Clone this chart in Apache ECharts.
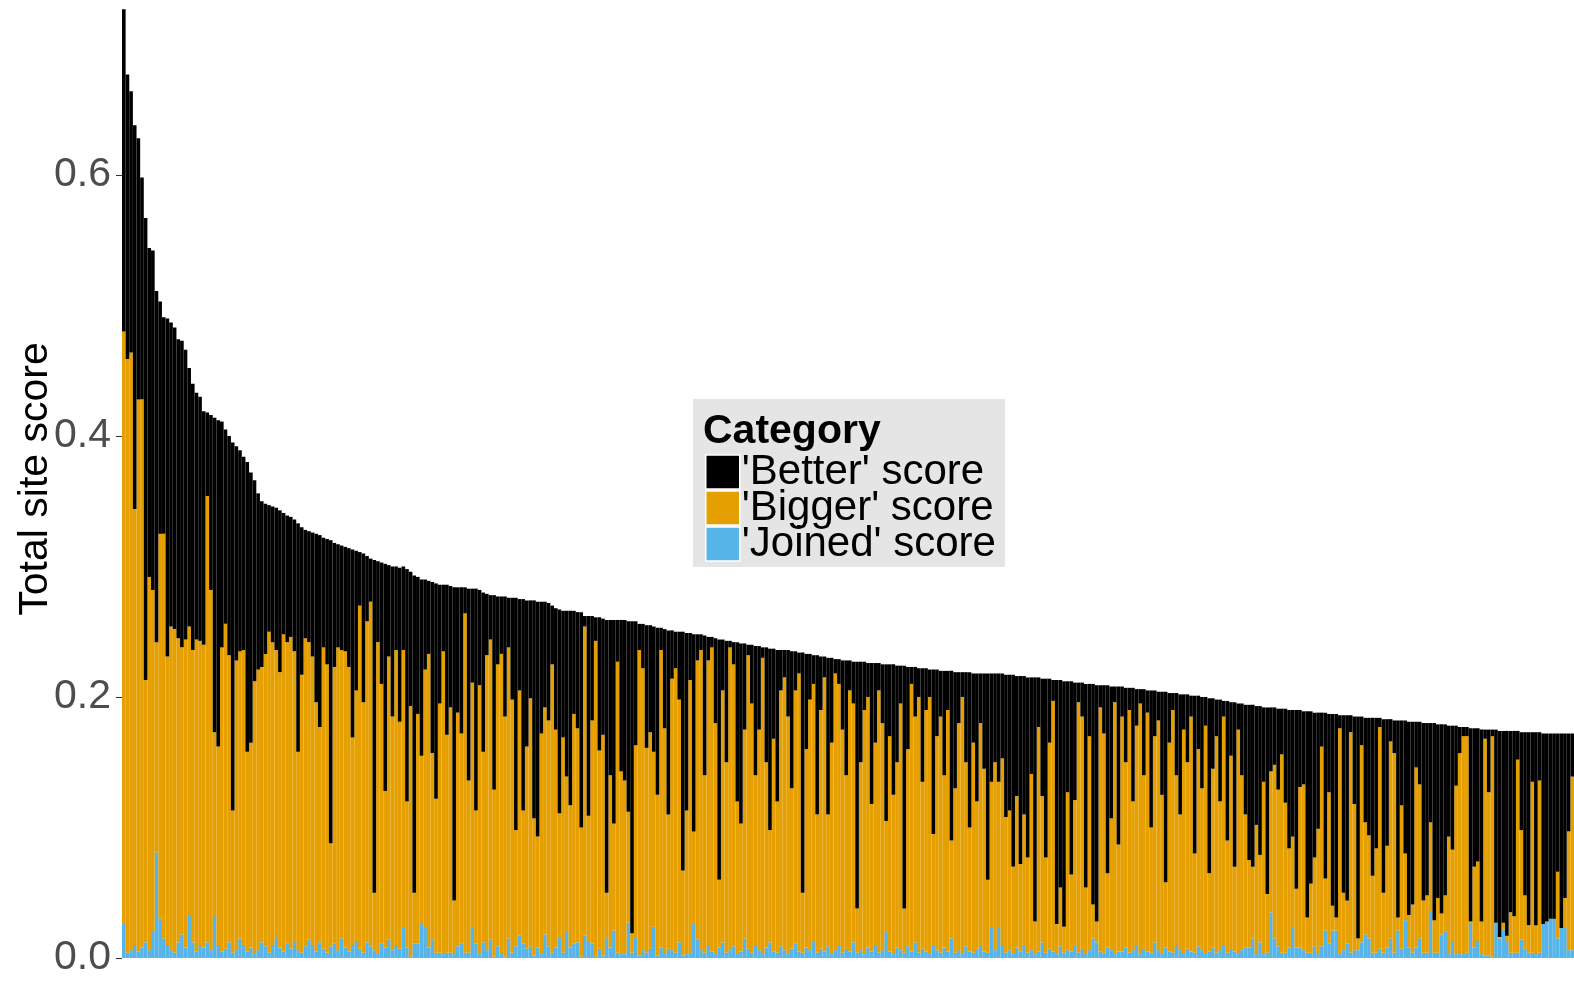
<!DOCTYPE html>
<html>
<head>
<meta charset="utf-8">
<script src="https://cdn.jsdelivr.net/npm/echarts@6/dist/echarts.min.js"></script>
<style>
html,body{margin:0;padding:0;background:#fff;}
#chart{width:1574px;height:981px;}
</style>
</head>
<body>
<div id="chart"></div>
<script>
// ---- data (sites sorted by total score, descending) ----
const seriesNames = ["'Better' score", "'Bigger' score", "'Joined' score"];
const yTickValues = [0, 0.2, 0.4, 0.6];

const joinedScore = [
  .026,.004,.006,.010,.005,.008,.012,.006,.020,.081,.030,.015,.010,.006,.004,.012,.018,.008,.033,.012,.005,.010,
  .008,.012,.006,.033,.010,.005,.007,.012,.004,.006,.015,.010,.005,.008,.003,.006,.012,.009,.004,.010,.016,.008,.005,.011,.007,.013,.006,.004,.009,.014,.010,.005,.012,.007,.004,.009,.011,.006,.015,.008,.005,.010,.013,.007,.004,.012,.009,.006,.003,.011,.008,.014,.006,.010,.007,
  .023,.008,.001,.011,.011,.026,.023,.008,.014,.004,.004,.003,.004,.004,.003,.009,.011,.004,.004,.024,.011,.003,.012,.006,.014,.001,.009,.003,.001,.015,.004,.009,.017,.011,.007,.009,.002,.008,.003,.018,.009,.004,.008,.016,.004,.020,.008,.011,.012,.001,.017,.013,.011,.001,.007,.002,.016,.008,.021,.004,.003,.003,.027,.004,.016,.002,.006,.004,.007,.024,.002,.008,.003,.007,.006,.004,.012,.002,.003,.003,.026,.014,
  .006,.004,.010,.005,.003,.008,.012,.004,.006,.009,.003,.005,.015,.007,.004,.010,.006,.003,.008,.012,.005,.004,.009,.006,.003,.007,.011,.005,.004,.008,.006,.013,.004,.007,.005,.009,.003,.006,.010,.004,.007,.005,.012,.004,.006,.003,.008,.005,.010,.004,.006,.020,.005,.003,.008,.006,.004,.009,.005,.012,.004,.007,.005,.003,.010,.006,.004,.008,.005,.015,.004,.006,.003,.009,.005,.004,.007,.010,.005,.004,.023,.006,
  .023,.010,.004,.006,.003,.008,.005,.010,.004,.006,.003,.005,.012,.004,.007,.005,.003,.009,.004,.006,.005,.010,.004,.007,.003,.006,.015,.012,.005,.004,.008,.006,.003,.005,
  .005,.008,.004,.006,.010,.003,.007,.005,.004,.012,.006,.003,.008,.005,.004,.010,.006,.003,.007,.005,.004,.009,.006,.003,.005,.008,.004,.006,.010,.004,.007,.005,.003,.006,.008,
  .008,.015,.003,.012,.003,.004,.035,.015,.009,.004,.004,.008,.023,.008,.008,.006,.004,.004,.009,.003,.009,.021,.011,.021,.021,.003,.006,.011,.004,.006,.006,.012,.018,.015,.004,.004,.007,.004,.008,.015,.004,.021,.007,.029,.008,.004,.008,.015,.004,.004,.036,.004,.004,.018,.020,.003,.013,.003,.003,.003,.004,.027,.008,.013,.003,.002,.002,.001,.026,.015,.022,.013,.004,.004,.004,.014,.007,.004,.004,.003,.004,.026,.028,.030,.030,.015,.023,.023,.006,.006
];

const biggerScore = [
  .454,.455,.458,.334,.423,.420,.201,.286,.262,.161,.295,.310,.221,.248,.248,.233,.220,.236,.221,.224,.239,.233,
  .232,.342,.276,.140,.152,.233,.249,.220,.109,.222,.220,.226,.153,.157,.209,.215,.211,.224,.246,.232,.220,.211,.243,.231,.239,.222,.152,.213,.236,.228,.221,.191,.165,.231,.221,.079,.212,.232,.221,.227,.218,.159,.192,.263,.192,.246,.264,.044,.239,.199,.120,.217,.179,.226,.174,
  .213,.112,.192,.039,.176,.129,.198,.225,.143,.118,.191,.232,.167,.188,.041,.179,.161,.260,.132,.187,.102,.206,.146,.226,.230,.128,.216,.230,.184,.223,.194,.089,.188,.102,.155,.190,.105,.085,.169,.174,.173,.221,.167,.095,.165,.119,.109,.176,.164,.099,.237,.096,.171,.242,.152,.169,.034,.132,.082,.223,.140,.133,.085,.015,.147,.234,.216,.157,.166,.134,.123,.228,.173,.103,.208,.218,.186,.065,.110,.210,.071,.214,
  .230,.136,.218,.233,.177,.052,.193,.146,.232,.216,.117,.098,.160,.225,.191,.130,.169,.227,.142,.086,.163,.116,.196,.209,.182,.123,.194,.213,.046,.152,.192,.197,.106,.183,.210,.101,.162,.212,.200,.171,.133,.200,.183,.034,.144,.187,.192,.113,.155,.201,.174,.085,.165,.122,.142,.189,.034,.151,.205,.173,.196,.128,.185,.197,.085,.164,.181,.132,.185,.075,.126,.174,.197,.141,.095,.161,.113,.170,.140,.056,.112,.144,
  .112,.143,.104,.107,.067,.116,.067,.100,.073,.135,.025,.172,.112,.073,.158,.192,.023,.045,.020,.121,.059,.111,.192,.178,.051,.164,.026,.016,.187,.168,.057,.101,.193,.082,
  .180,.142,.186,.114,.168,.192,.133,.183,.096,.158,.176,.122,.050,.160,.186,.130,.104,.172,.143,.180,.076,.151,.124,.175,.060,.137,.166,.114,.175,.086,.148,.065,.172,.134,.102,
  .067,.055,.099,.067,.132,.045,.108,.133,.120,.152,.115,.076,.070,.045,.123,.127,.027,.053,.068,.096,.153,.040,.116,.019,.010,.173,.044,.033,.169,.112,.009,.151,.086,.079,.059,.080,.170,.046,.078,.151,.153,.010,.110,.051,.025,.037,.138,.118,.040,.044,.068,.025,.042,.016,.028,.090,.070,.129,.154,.167,.166,.001,.062,.061,.025,.166,.125,.169,.001,.001,.005,.004,.031,.028,.148,.084,.041,.021,.131,.022,.132,.000,.000,.000,.000,.051,.000,.023,.091,.133
];

const betterScore = [
  .247,.218,.200,.294,.200,.170,.354,.252,.260,.269,.178,.166,.259,.233,.231,.229,.235,.222,.198,.204,.189,.187,
  .179,.064,.134,.241,.250,.173,.149,.168,.282,.164,.154,.148,.222,.207,.154,.135,.127,.115,.097,.104,.109,.124,.093,.097,.092,.101,.175,.113,.083,.085,.095,.129,.147,.084,.096,.232,.095,.079,.080,.080,.091,.144,.107,.041,.114,.050,.033,.255,.062,.093,.174,.070,.115,.064,.118,
  .064,.178,.103,.243,.105,.135,.069,.056,.131,.165,.091,.051,.115,.093,.240,.096,.112,.020,.147,.072,.170,.073,.122,.047,.034,.149,.052,.044,.092,.038,.078,.178,.070,.162,.112,.075,.167,.180,.101,.081,.090,.045,.093,.156,.097,.127,.149,.079,.089,.165,.008,.153,.080,.018,.102,.089,.209,.119,.156,.032,.116,.123,.146,.239,.095,.020,.034,.094,.082,.096,.128,.017,.076,.141,.037,.028,.052,.183,.136,.036,.151,.020,
  .012,.107,.018,.008,.065,.184,.039,.093,.005,.017,.122,.138,.066,.008,.045,.099,.064,.008,.088,.139,.069,.116,.031,.021,.051,.105,.030,.016,.184,.073,.035,.022,.122,.041,.016,.120,.065,.011,.019,.053,.088,.023,.032,.189,.077,.037,.026,.108,.061,.021,.045,.120,.055,.100,.074,.029,.186,.063,.013,.038,.022,.087,.032,.021,.126,.051,.035,.080,.030,.130,.089,.039,.019,.069,.119,.053,.098,.038,.073,.158,.083,.068,
  .083,.065,.109,.104,.147,.092,.144,.106,.138,.074,.187,.038,.090,.137,.049,.016,.187,.159,.188,.085,.148,.090,.015,.026,.156,.040,.169,.181,.017,.037,.144,.101,.012,.121,
  .023,.057,.017,.087,.028,.011,.066,.017,.105,.035,.022,.079,.146,.038,.013,.063,.092,.027,.052,.016,.121,.041,.070,.022,.134,.054,.028,.078,.012,.107,.041,.126,.020,.055,.084,
  .119,.124,.091,.114,.057,.143,.049,.044,.062,.035,.072,.106,.097,.137,.059,.056,.158,.132,.111,.089,.026,.127,.060,.147,.156,.010,.136,.142,.013,.067,.170,.022,.080,.090,.121,.100,.007,.133,.097,.017,.025,.151,.065,.102,.148,.140,.035,.048,.136,.132,.076,.151,.133,.145,.131,.085,.095,.046,.020,.007,.007,.148,.106,.102,.147,.007,.048,.005,.148,.158,.147,.157,.139,.142,.022,.075,.125,.148,.038,.148,.037,.146,.144,.142,.142,.106,.149,.126,.075,.033
];

// site identifiers (unlabelled on the axis)
const sites = joinedScore.map((_, i) => 'site ' + (i + 1));

const colors = { better: '#000000', bigger: '#E69F00', joined: '#56B4E9' };
const FONT = '"Liberation Sans", Arial, sans-serif';

const chart = echarts.init(document.getElementById('chart'), null, { renderer: 'canvas' });

const barCommon = { type: 'bar', stack: 'total', barCategoryGap: '0%', barGap: '0%', animation: false, silent: true };

chart.setOption({
  animation: false,
  backgroundColor: '#ffffff',
  grid: { left: 122, right: 0, top: 0, bottom: 23, containLabel: false, outerBoundsMode: 'none' },
  xAxis: {
    type: 'category', data: sites,
    axisLine: { show: false }, axisTick: { show: false }, axisLabel: { show: false },
    splitLine: { show: false }
  },
  yAxis: {
    type: 'value', min: 0, max: 0.734, interval: 0.2,
    name: 'Total site score', nameLocation: 'middle', nameRotate: 90, nameGap: 66,
    nameMoveOverlap: false,
    nameTextStyle: { fontSize: 41, color: '#000000', fontFamily: FONT },
    axisLine: { show: false },
    axisTick: { show: true, length: 6, lineStyle: { color: '#333333', width: 1 } },
    axisLabel: {
      fontSize: 41, color: '#4d4d4d', fontFamily: FONT, margin: 11, showMaxLabel: false,
      formatter: v => (yTickValues.some(t => Math.abs(t - v) < 1e-9) ? v.toFixed(1) : '')
    },
    splitLine: { show: false }
  },
  legend: {
    orient: 'vertical', left: 705, top: 451, padding: 0,
    itemWidth: 34, itemHeight: 34, itemGap: -6, icon: 'rect',
    selectedMode: false,
    data: seriesNames,
    itemStyle: { borderColor: '#ffffff', borderWidth: 1.5 },
    textStyle: { fontSize: 42, color: '#000000', fontFamily: FONT, padding: [0, 0, 0, -3] }
  },
  graphic: [
    { type: 'rect', left: 693, top: 399, z: -1, shape: { width: 312, height: 168 }, style: { fill: '#e5e5e5' } },
    { type: 'text', left: 703, top: 411, style: { text: 'Category', font: 'bold 41px ' + FONT, fill: '#000000' } }
  ],
  series: [
    Object.assign({}, barCommon, { name: seriesNames[2], data: joinedScore, itemStyle: { color: colors.joined } }),
    Object.assign({}, barCommon, { name: seriesNames[1], data: biggerScore, itemStyle: { color: colors.bigger } }),
    Object.assign({}, barCommon, { name: seriesNames[0], data: betterScore, itemStyle: { color: colors.better } })
  ]
});
</script>
</body>
</html>
